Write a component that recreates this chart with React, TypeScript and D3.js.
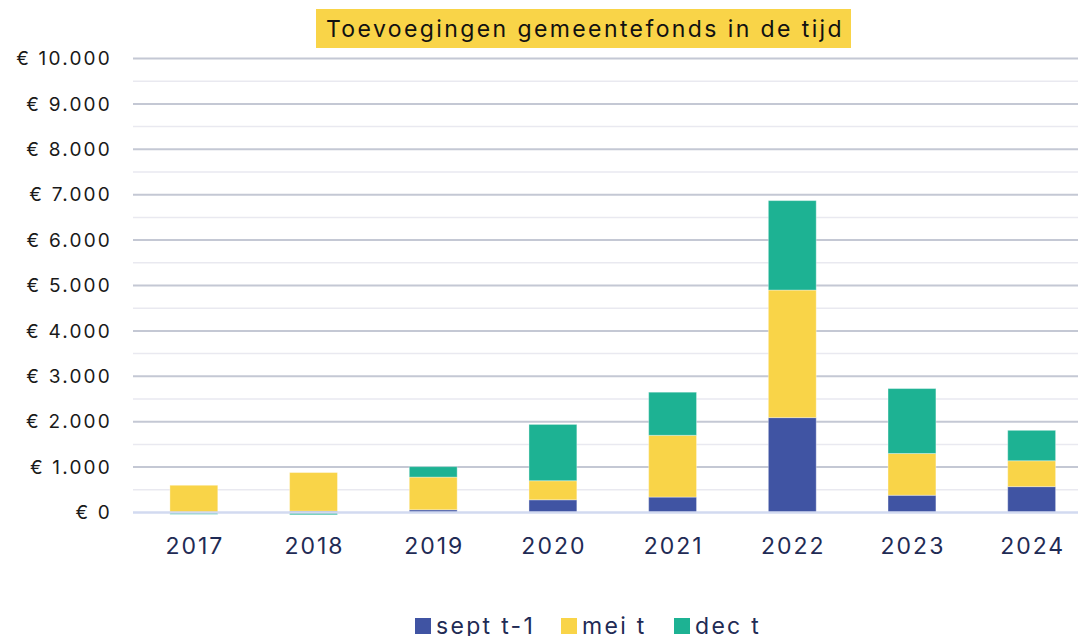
import * as d3 from 'd3';
import { useEffect, useRef } from 'react';

const years = ['2017', '2018', '2019', '2020', '2021', '2022', '2023', '2024'];
const septT1 = [0, 30, 60, 280, 340, 2090, 380, 570];
const meiT = [600, 850, 720, 420, 1360, 2810, 920, 570];
const decT = [-40, -50, 230, 1240, 950, 1970, 1430, 670];
const seriesNames = ['sept t-1', 'mei t', 'dec t'];
const seriesColors = ['#4054a3', '#f9d448', '#1db293'];
const yTicks = [0, 1000, 2000, 3000, 4000, 5000, 6000, 7000, 8000, 9000, 10000];
const title = 'Toevoegingen gemeentefonds in de tijd';

function App() {
    return <StackedChart />;
}

const StackedChart = () => {
    const svgRef = useRef<SVGSVGElement>(null);

    useEffect(() => {
        const w = 1078;
        const h = 636;
        const font = 'Inter, "Noto Sans", sans-serif';

        d3.select(svgRef.current).selectAll('*').remove();
        const svg = d3.select(svgRef.current).attr('width', w).attr('height', h);

        const rows = years.map((y, i) => ({
            year: y,
            'sept t-1': septT1[i],
            'mei t': meiT[i],
            'dec t': decT[i],
        }));

        const stack = d3
            .stack<any>()
            .keys(seriesNames)
            .offset(d3.stackOffsetDiverging);
        const layers = stack(rows);

        const x = d3
            .scaleBand()
            .domain(years)
            .range([134, 1091.5])
            .paddingInner(0.6)
            .paddingOuter(0.3);

        const y = d3.scaleLinear().domain([0, 10000]).range([512.5, 58.5]);

        // gridlines: minor every 500, major every 1000
        const minor = d3.range(500, 10000, 1000);
        svg.append('g')
            .selectAll('line')
            .data(minor)
            .enter()
            .append('line')
            .attr('x1', 133)
            .attr('x2', w)
            .attr('y1', (d) => y(d))
            .attr('y2', (d) => y(d))
            .attr('stroke', '#e9e9f0')
            .attr('stroke-width', 1.5);

        svg.append('g')
            .selectAll('line')
            .data(yTicks.filter((d) => d > 0))
            .enter()
            .append('line')
            .attr('x1', 133)
            .attr('x2', w)
            .attr('y1', (d) => y(d))
            .attr('y2', (d) => y(d))
            .attr('stroke', '#c4c8d4')
            .attr('stroke-width', 2);

        // bars
        svg.append('g')
            .selectAll('g')
            .data(layers)
            .enter()
            .append('g')
            .attr('fill', (_, i) => seriesColors[i])
            .selectAll('rect')
            .data((d) => d)
            .enter()
            .append('rect')
            .attr('x', (d: any) => x(d.data.year)!)
            .attr('width', x.bandwidth())
            .attr('y', (d) => y(Math.max(d[0], d[1])))
            .attr('height', (d) => Math.abs(y(d[0]) - y(d[1])))
            .attr('stroke', 'rgba(255,255,255,0.35)')
            .attr('stroke-width', 1);

        // baseline
        svg.append('line')
            .attr('x1', 133)
            .attr('x2', w)
            .attr('y1', y(0))
            .attr('y2', y(0))
            .attr('stroke', '#d2daf0')
            .attr('stroke-width', 2.5);

        // y labels
        const fmt = (v: number) =>
            '€ ' + (v === 0 ? '0' : d3.format(',')(v).replace(/,/g, '.'));
        svg.append('g')
            .selectAll('text')
            .data(yTicks)
            .enter()
            .append('text')
            .attr('x', 112)
            .attr('y', (d) => y(d))
            .attr('dy', '0.35em')
            .attr('text-anchor', 'end')
            .attr('font-family', font)
            .attr('font-size', 19)
            .attr('letter-spacing', 2.2)
            .attr('fill', '#1a1a1a')
            .text(fmt);

        // x labels
        svg.append('g')
            .selectAll('text')
            .data(years)
            .enter()
            .append('text')
            .attr('x', (d) => x(d)! + x.bandwidth() / 2 + 1)
            .attr('y', 546)
            .attr('dy', '0.35em')
            .attr('text-anchor', 'middle')
            .attr('font-family', font)
            .attr('font-size', 23)
            .attr('letter-spacing', 2)
            .attr('fill', '#1f2b55')
            .text((d) => d);

        // title
        svg.append('rect')
            .attr('x', 316)
            .attr('y', 9)
            .attr('width', 535)
            .attr('height', 39)
            .attr('fill', '#f9d448');
        svg.append('text')
            .attr('x', 585)
            .attr('y', 29)
            .attr('dy', '0.35em')
            .attr('text-anchor', 'middle')
            .attr('font-family', font)
            .attr('font-size', 23)
            .attr('letter-spacing', 2.4)
            .attr('fill', '#111')
            .text(title);

        // legend
        const legendX = [415, 561, 674];
        const lg = svg.append('g');
        seriesNames.forEach((name, i) => {
            lg.append('rect')
                .attr('x', legendX[i])
                .attr('y', 618)
                .attr('width', 16)
                .attr('height', 16)
                .attr('fill', seriesColors[i]);
            lg.append('text')
                .attr('x', legendX[i] + 21)
                .attr('y', 626)
                .attr('dy', '0.35em')
                .attr('font-family', font)
                .attr('font-size', 23)
                .attr('letter-spacing', 2.3)
                .attr('fill', '#1f2b55')
                .text(name);
        });
    }, []);

    return (
        <svg
            ref={svgRef}
            style={{ position: 'absolute', left: 0, top: 0 }}
        ></svg>
    );
};

export default App;
